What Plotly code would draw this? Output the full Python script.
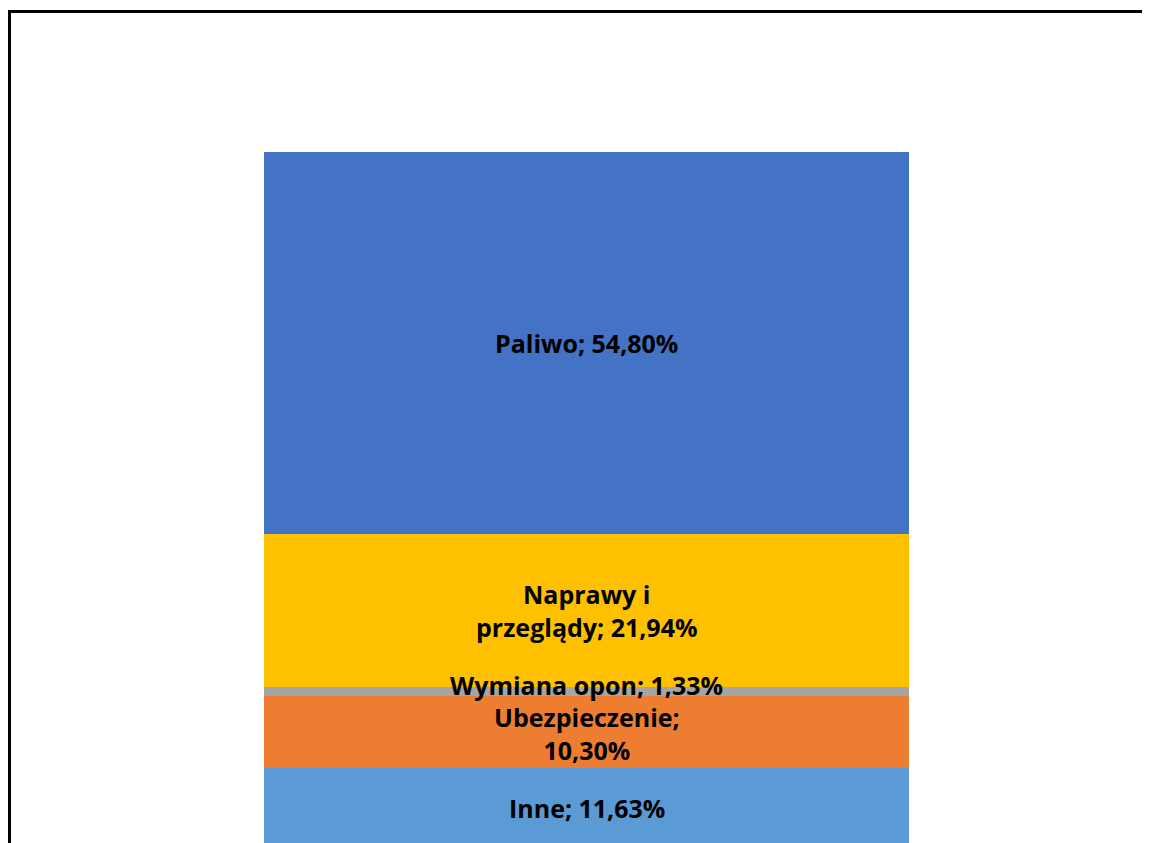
import plotly.graph_objects as go

# Data (bottom to top in the stack)
categories = ["Inne", "Ubezpieczenie", "Wymiana opon", "Naprawy i przeglądy", "Paliwo"]
label_lines = ["Inne; 11,63%", "Ubezpieczenie;<br>10,30%", "Wymiana opon; 1,33%",
               "Naprawy i<br>przeglądy; 21,94%", "Paliwo; 54,80%"]
values = [11.63, 10.30, 1.33, 21.94, 54.80]
colors = ["#5B9BD5", "#ED7D31", "#A5A5A5", "#FFC000", "#4472C4"]
label_yshift = [0, -1, 7, 0, 0]

fig = go.Figure()
for cat, val, col in zip(categories, values, colors):
    fig.add_trace(go.Bar(x=[0], y=[val], name=cat, width=1,
                         marker=dict(color=col, line=dict(width=0)),
                         hoverinfo="name+y"))

annotations = []
base = 0.0
for lab, val, ys in zip(label_lines, values, label_yshift):
    txt = "<b>" + lab.replace("<br>", "</b><br><b>") + "</b>"
    annotations.append(dict(x=0, y=base + val / 2, xref="x", yref="y", text=txt,
                            showarrow=False, yshift=ys,
                            font=dict(family="Open Sans", size=25, color="#000000"),
                            xanchor="center", yanchor="middle"))
    base += val

fig.update_layout(
    barmode="stack",
    width=1142, height=835,
    margin=dict(l=0, r=0, t=0, b=0),
    paper_bgcolor="white", plot_bgcolor="white",
    showlegend=False,
    bargap=0,
    xaxis=dict(range=[-0.8969, 0.8736], visible=False, fixedrange=True),
    yaxis=dict(range=[0.86, 120.66], visible=False, fixedrange=True),
    annotations=annotations,
    shapes=[dict(type="rect", xref="paper", yref="paper",
                 x0=1.5 / 1142, x1=1.05, y0=-0.05, y1=1 - 3.5 / 835,
                 line=dict(color="black", width=3), fillcolor="rgba(0,0,0,0)",
                 layer="above")],
)

fig.write_html("out.html")
